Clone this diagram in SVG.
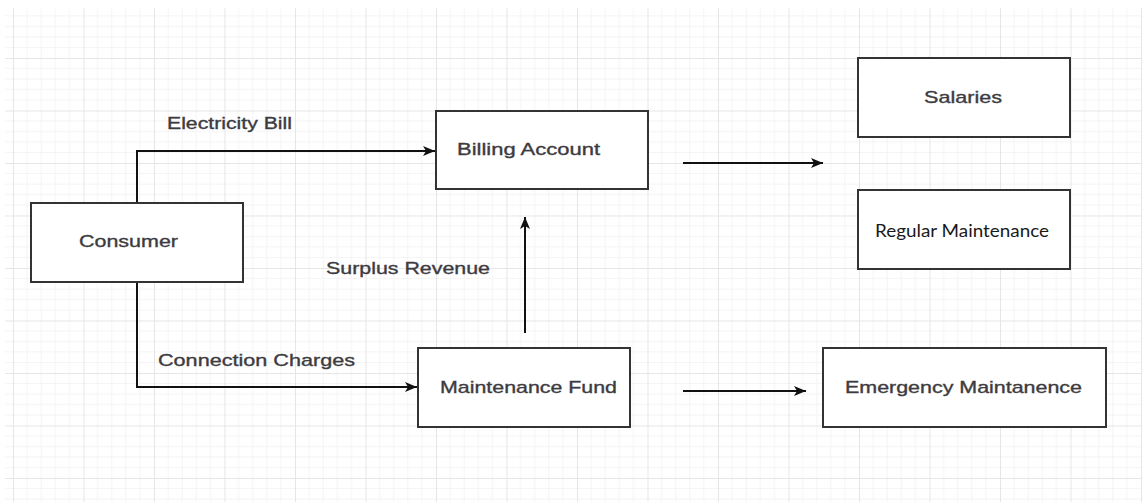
<svg xmlns="http://www.w3.org/2000/svg" width="1142" height="502" viewBox="0 0 1142 502">
<style>
.box{fill:#fff;stroke:#333;stroke-width:2}
.lbl{font-family:"Liberation Sans",Arial,sans-serif;font-size:17px;fill:#3d3b40;stroke:#3d3b40;stroke-width:0.35}
.cal{font-family:Lato,"Open Sans",sans-serif;font-size:17px;fill:#1a1a1a}
.edge{fill:none;stroke:#111;stroke-width:2}
</style>
<defs>
<pattern id="grid" patternUnits="userSpaceOnUse" x="13" y="5.5" width="70.5" height="52.5">
<path d="M14.1 0V52.5M28.2 0V52.5M42.3 0V52.5M56.4 0V52.5M0 10.5H70.5M0 21H70.5M0 31.5H70.5M0 42H70.5" stroke="#f4f4f4" stroke-width="1" fill="none"/>
<path d="M0.5 0V52.5M0 0.5H70.5" stroke="#e6e6e6" stroke-width="1" fill="none"/>
</pattern>
<marker id="arr" markerWidth="13" markerHeight="12" refX="12" refY="6" orient="auto" markerUnits="userSpaceOnUse">
<path d="M0 1 L12 6 L0 11 L3 6 Z" fill="#111"/>
</marker>
</defs>
<rect width="1142" height="502" fill="#fff"/>
<rect x="5" y="8" width="1137" height="494" fill="url(#grid)"/>

<g id="connectors">
<path class="edge" d="M137 203V151H435" marker-end="url(#arr)"/>
<path class="edge" d="M137 282V387H417" marker-end="url(#arr)"/>
<path class="edge" d="M525 333V217" marker-end="url(#arr)"/>
<path class="edge" d="M683 163H823" marker-end="url(#arr)"/>
<path class="edge" d="M683 391H806" marker-end="url(#arr)"/>
<text class="lbl" x="167" y="129" textLength="125" lengthAdjust="spacingAndGlyphs">Electricity Bill</text>
<text class="lbl" x="158" y="366" textLength="197" lengthAdjust="spacingAndGlyphs">Connection Charges</text>
<text class="lbl" x="326" y="274" textLength="164" lengthAdjust="spacingAndGlyphs">Surplus Revenue</text>
</g>

<g id="consumer">
<rect class="box" x="31" y="203" width="212" height="79"/>
<text class="lbl" x="79" y="247" textLength="99" lengthAdjust="spacingAndGlyphs">Consumer</text>
</g>
<g id="billing">
<rect class="box" x="436" y="111" width="212" height="78"/>
<text class="lbl" x="457" y="155" textLength="143" lengthAdjust="spacingAndGlyphs">Billing Account</text>
</g>
<g id="salaries">
<rect class="box" x="858" y="58" width="212" height="79"/>
<text class="lbl" x="924" y="103" textLength="78" lengthAdjust="spacingAndGlyphs">Salaries</text>
</g>
<g id="regular">
<rect class="box" x="858" y="190" width="212" height="79"/>
<text class="cal" x="875" y="237" textLength="174" lengthAdjust="spacingAndGlyphs">Regular Maintenance</text>
</g>
<g id="fund">
<rect class="box" x="418" y="348" width="212" height="79"/>
<text class="lbl" x="440" y="393" textLength="177" lengthAdjust="spacingAndGlyphs">Maintenance Fund</text>
</g>
<g id="emergency">
<rect class="box" x="823" y="348" width="283" height="79"/>
<text class="lbl" x="845" y="393" textLength="237" lengthAdjust="spacingAndGlyphs">Emergency Maintanence</text>
</g>
</svg>
